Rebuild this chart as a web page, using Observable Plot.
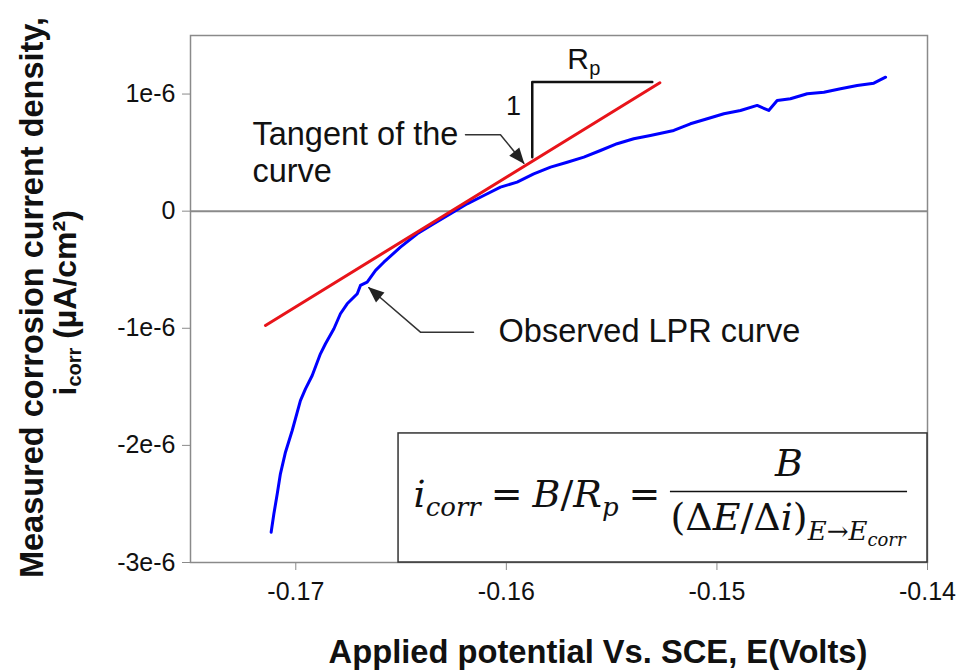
<!DOCTYPE html>
<html><head><meta charset="utf-8">
<script src="https://cdn.jsdelivr.net/npm/d3@7"></script>
<script src="https://cdn.jsdelivr.net/npm/@observablehq/plot@0.6"></script>
<style>body{margin:0;background:#fff} svg{display:block}</style>
</head><body><div id="chart"></div>
<script>
// ---- data ----
const potential = [-0.17117,-0.17104,-0.17088,-0.17073,-0.17049,-0.17017,-0.16978,-0.16954,-0.16922,-0.16883,-0.16859,-0.16819,-0.16788,-0.16756,-0.16708,-0.16693,-0.16661,-0.16621,-0.16582,-0.16503,-0.16423,-0.16345,-0.16265,-0.16186,-0.16107,-0.16028,-0.15949,-0.15870,-0.15790,-0.15711,-0.15632,-0.15553,-0.15474,-0.15395,-0.15316,-0.15205,-0.15126,-0.15046,-0.14967,-0.14888,-0.14809,-0.14754,-0.14714,-0.14651,-0.14571,-0.14492,-0.14413,-0.14334,-0.14255,-0.14199];
const current = [-2.741e-6,-2.584e-6,-2.413e-6,-2.243e-6,-2.058e-6,-1.873e-6,-1.617e-6,-1.517e-6,-1.403e-6,-1.218e-6,-1.132e-6,-1.004e-6,-0.876e-6,-0.791e-6,-0.705e-6,-0.634e-6,-0.606e-6,-0.506e-6,-0.436e-6,-0.307e-6,-0.193e-6,-0.108e-6,-0.022e-6,0.063e-6,0.134e-6,0.205e-6,0.248e-6,0.319e-6,0.376e-6,0.418e-6,0.461e-6,0.518e-6,0.576e-6,0.618e-6,0.646e-6,0.689e-6,0.746e-6,0.789e-6,0.832e-6,0.860e-6,0.903e-6,0.860e-6,0.945e-6,0.960e-6,1.003e-6,1.016e-6,1.045e-6,1.073e-6,1.093e-6,1.144e-6];
const tangentE = [-0.17144, -0.15271];
const tangentI = [-0.976e-6, 1.0965e-6];
const rpE = [-0.15877, -0.15877, -0.15307];
const rpI = [0.461e-6, 1.102e-6, 1.102e-6];
const arrowTanE = [-0.16194, -0.16028, -0.15917];
const arrowTanI = [0.652e-6, 0.652e-6, 0.410e-6];
const arrowLprE = [-0.16156, -0.16408, -0.16653];
const arrowLprI = [-1.033e-6, -1.033e-6, -0.654e-6];
const boxE = [-0.16512, -0.14];
const boxI = [-3e-6, -1.898e-6];
const xTicks = [-0.17, -0.16, -0.15, -0.14];
const xTickLabels = ["-0.17", "-0.16", "-0.15", "-0.14"];
const yTicks = [1e-6, 0, -1e-6, -2e-6, -3e-6];
const yTickLabels = ["1e-6", "0", "-1e-6", "-2e-6", "-3e-6"];
const xTitle = "Applied potential Vs. SCE, E(Volts)";
const yTitle1 = "Measured corrosion current density,";
const yTitle2 = ["i", "corr", " (µA/cm²)"];
const notes = [
  {t: "Tangent of the", E: -0.17206, I: 0.561e-6},
  {t: "curve", E: -0.17206, I: 0.248e-6},
  {t: "Observed LPR curve", E: -0.16037, I: -1.113e-6}
];
const oneLabel = {t: "1", E: -0.15966, I: 0.817e-6};
const rpLabel = {t: "R", sub: "p", E: -0.15711, I: 1.216e-6};
const formulaAnchor = {E: -0.16512, I: -2.530e-6};

// ---- geometry ----
const W = 957, H = 671, mL = 190, mR = 30, mT = 35, mB = 109;
const xDomain = [-0.175, -0.14], yDomain = [-3e-6, 1.5e-6];
const pxX = (W - mL - mR) / (xDomain[1] - xDomain[0]);
const pxY = (H - mT - mB) / (yDomain[1] - yDomain[0]);
const SANS = "'Liberation Sans', Arial, Helvetica, sans-serif";
const SERIF = "'DejaVu Serif', serif";

const ctx = document.createElement("canvas").getContext("2d");
function measure(t, size, style, weight, fam) {
  ctx.font = `${style || "normal"} ${weight || "normal"} ${size}px ${fam}`;
  return ctx.measureText(t).width;
}

const curve = potential.map((E, k) => ({E, I: current[k]}));
const zip = (a, b) => a.map((E, k) => ({E, I: b[k]}));

// ---- formula layout ----
const F = 38, S = 26, SS = 18, G = 10;
const runs = [];
let cx = 15;
function put(t, size, style, dy) { runs.push({t, size, style, dx: cx, dy}); cx += measure(t, size, style, "normal", SERIF); }
put("i", F, "italic", 0);
put("corr", S, "italic", 9);
cx += G; put("=", F, "normal", 0); cx += G;
put("B", F, "italic", 0); put("/", F, "normal", 0); put("R", F, "italic", 0);
put("p", S, "italic", 9);
cx += G; put("=", F, "normal", 0); cx += G;
const fracL = cx;
put("(Δ", F, "normal", 23); put("E", F, "italic", 23); put("/Δ", F, "normal", 23); put("i", F, "italic", 23); put(")", F, "normal", 23);
put("E→E", S, "italic", 33);
put("corr", SS, "italic", 39);
const fracR = cx + 2;
const numW = measure("B", F, "italic", "normal", SERIF);
runs.push({t: "B", size: F, style: "italic", dx: (fracL + fracR) / 2 - numW / 2, dy: -31});
const barE = [formulaAnchor.E + fracL / pxX, formulaAnchor.E + fracR / pxX];
const barI = formulaAnchor.I + 16 / pxY;

// y title second line pieces (rotated, running upward)
const yt2 = [];
let ty = 395;
[[yTitle2[0], 32, 0], [yTitle2[1], 20, 5], [yTitle2[2], 32, 0]].forEach(([t, s, off]) => {
  yt2.push({t, s, x: 75 + off, y: ty});
  ty -= measure(t, s, "normal", "bold", SANS);
});

const marks = [
  Plot.frame({stroke: "#8a8a8a", strokeWidth: 1.5}),
  Plot.ruleY([0], {stroke: "#8a8a8a", strokeWidth: 2}),
  Plot.axisY(yTicks, {tickSize: 8, tickPadding: 7, fontSize: 25, stroke: "#8a8a8a", fill: "#111", tickFormat: d => yTickLabels[yTicks.indexOf(d)], label: null}),
  Plot.axisX(xTicks, {tickSize: 8, tickPadding: 12, fontSize: 25, stroke: "#8a8a8a", fill: "#111", tickFormat: d => xTickLabels[xTicks.indexOf(d)], label: null}),
  Plot.rect([0], {x1: () => boxE[0], x2: () => boxE[1], y1: () => boxI[0], y2: () => boxI[1], fill: "white", stroke: "#333", strokeWidth: 1.5}),
  Plot.line(curve, {x: "E", y: "I", stroke: "#0000ff", strokeWidth: 3}),
  Plot.line(zip(tangentE, tangentI), {x: "E", y: "I", stroke: "#e8141a", strokeWidth: 3}),
  Plot.line(zip(rpE, rpI), {x: "E", y: "I", stroke: "#111", strokeWidth: 2.5}),
  Plot.line(zip(arrowTanE, arrowTanI), {x: "E", y: "I", stroke: "#333", strokeWidth: 1.5, markerEnd: "arrow"}),
  Plot.line(zip(arrowLprE, arrowLprI), {x: "E", y: "I", stroke: "#333", strokeWidth: 1.5, markerEnd: "arrow"}),
  Plot.text(notes, {x: "E", y: "I", text: "t", textAnchor: "start", lineAnchor: "bottom", fontSize: 32.5, fill: "#111"}),
  Plot.text([oneLabel], {x: "E", y: "I", text: "t", textAnchor: "middle", lineAnchor: "bottom", fontSize: 27, fill: "#111"}),
  Plot.text([rpLabel], {x: "E", y: "I", text: "t", textAnchor: "start", lineAnchor: "bottom", fontSize: 30, fill: "#111"}),
  Plot.text([rpLabel], {x: "E", y: "I", text: "sub", textAnchor: "start", lineAnchor: "bottom", fontSize: 20, dx: 22, dy: 6, fill: "#111"}),
  Plot.ruleY([barI], {x1: barE[0], x2: barE[1], stroke: "#111", strokeWidth: 1.5}),
  ...runs.map(r => Plot.text([r], {x: () => formulaAnchor.E, y: () => formulaAnchor.I, text: "t", dx: r.dx, dy: r.dy, fontSize: r.size, fontStyle: r.style, fontFamily: SERIF, textAnchor: "start", lineAnchor: "bottom", fill: "#111"})),
  Plot.text([xTitle], {frameAnchor: "bottom", text: d => d, dx: 39, dy: 100, fontSize: 32.7, fontWeight: "bold", textAnchor: "middle", lineAnchor: "bottom", fill: "#111"}),
  Plot.text([yTitle1], {frameAnchor: "top-left", text: d => d, rotate: -90, dx: 42 - mL, dy: 297 - mT, fontSize: 32.5, fontWeight: "bold", textAnchor: "middle", lineAnchor: "bottom", fill: "#111"}),
  ...yt2.map(p => Plot.text([p.t], {frameAnchor: "top-left", text: d => d, rotate: -90, dx: p.x - mL, dy: p.y - mT, fontSize: p.s, fontWeight: "bold", textAnchor: "start", lineAnchor: "bottom", fill: "#111"}))
];

const plot = Plot.plot({
  width: W, height: H,
  marginLeft: mL, marginRight: mR, marginTop: mT, marginBottom: mB,
  style: {fontFamily: SANS, background: "#fff", overflow: "visible"},
  x: {domain: xDomain},
  y: {domain: yDomain},
  marks
});

// filled arrow heads
plot.querySelectorAll("marker").forEach(m => {
  m.setAttribute("viewBox", "-16 -7 18 14");
  m.setAttribute("markerWidth", 12);
  m.setAttribute("markerHeight", 9.333);
  m.setAttribute("fill", "#222");
  m.setAttribute("stroke", "none");
  m.innerHTML = '<path d="M-15,-6.5L1,0L-15,6.5Z"></path>';
});
document.getElementById("chart").appendChild(plot);
</script>
</body></html>
